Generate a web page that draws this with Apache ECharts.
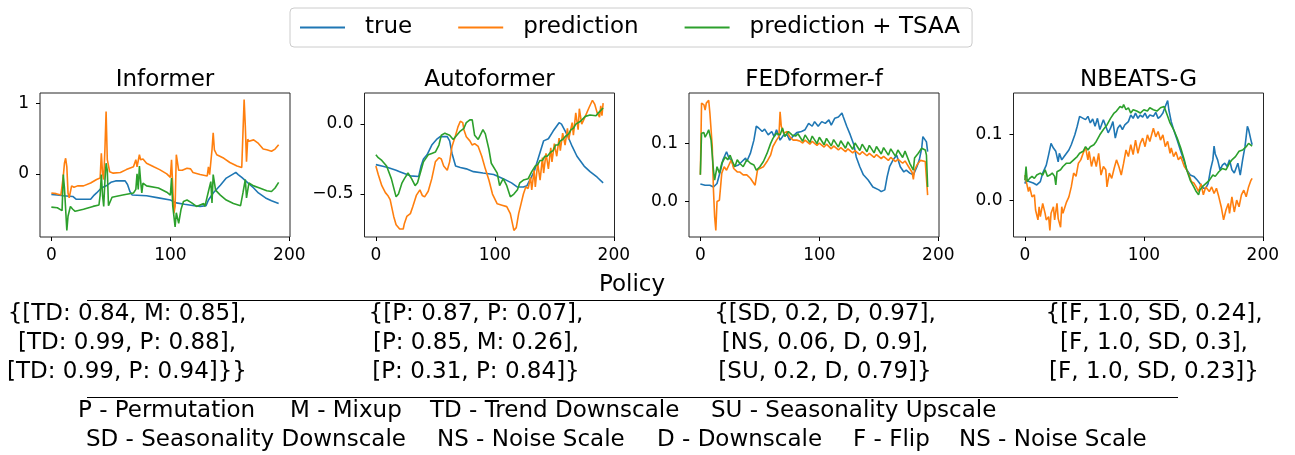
<!DOCTYPE html>
<html>
<head>
<meta charset="utf-8">
<script src="https://cdn.jsdelivr.net/npm/echarts@6/dist/echarts.min.js"></script>
<style>
  html, body { margin: 0; padding: 0; background: #fff; }
  #chart { width: 1295px; height: 455px; }
</style>
</head>
<body>
<div id="chart"></div>
<script>
// 数据：每个模型三条曲线 [x, y]
const seriesNames = ['true', 'prediction', 'prediction + TSAA'];
const modelNames = ['Informer', 'Autoformer', 'FEDformer-f', 'NBEATS-G'];
const xTicks = [0, 100, 200];
const yTicks = [[0, 1], [-0.5, 0.0], [0.0, 0.1], [0.0, 0.1]];
const yRanges = [[-0.8925, 1.1425], [-0.807, 0.222], [-0.0615, 0.1875], [-0.0559, 0.1624]];

const informerTrue = [[0,-0.29],[5,-0.3],[10,-0.31],[18,-0.32],[21,-0.36],[33,-0.36],[36,-0.3],[38,-0.27],[42,-0.2],[47,-0.16],[50,-0.12],[54,-0.1],[62,-0.1],[64,-0.15],[66,-0.25],[68,-0.3],[80,-0.31],[90,-0.34],[100,-0.37],[105,-0.41],[112,-0.43],[120,-0.45],[125,-0.46],[130,-0.45],[132,-0.37],[136,-0.27],[142,-0.16],[147,-0.06],[153,0],[155,0.02],[157,-0.01],[160,-0.05],[164,-0.11],[170,-0.2],[174,-0.27],[180,-0.34],[185,-0.38],[191,-0.42]];
const informerPred = [[0,-0.27],[4,-0.28],[8,-0.3],[9,-0.29],[10,-0.04],[11,0.15],[12,0.22],[13,0.1],[14,-0.27],[15,-0.34],[17,-0.17],[19,-0.19],[22,-0.17],[27,-0.17],[33,-0.13],[38,-0.08],[41,-0.06],[42,0.29],[43,0.01],[44,-0.08],[45,0.34],[46,0.88],[47,0.2],[49,0.03],[52,0.01],[58,0.02],[63,0.06],[69,0.1],[71,0.2],[72,0.1],[74,0.27],[75,0.2],[77,0.21],[80,0.15],[86,0.1],[91,0.06],[97,0],[100,-0.05],[101,0.2],[102,-0.18],[103,-0.56],[104,-0.46],[105,0.27],[107,0.05],[110,0.05],[114,0.08],[117,0.07],[119,0.02],[125,-0.01],[131,-0.03],[132,0.1],[133,-0.01],[135,0.34],[136,0.58],[137,0.34],[139,0.27],[145,0.22],[150,0.16],[156,0.11],[160,0.09],[161,0.57],[162,1.05],[163,0.67],[164,0.17],[165,0.49],[166,0.46],[170,0.48],[174,0.43],[178,0.35],[181,0.34],[185,0.32],[188,0.35],[191,0.41]];
const informerTsaa = [[0,-0.47],[5,-0.48],[9,-0.52],[10,-0.01],[11,-0.2],[13,-0.8],[14,-0.6],[16,-0.46],[18,-0.5],[20,-0.53],[27,-0.5],[35,-0.46],[40,-0.44],[41,-0.3],[42,-0.01],[43,-0.3],[44,-0.46],[45,-0.1],[46,0.15],[47,0.05],[48,-0.45],[51,-0.33],[60,-0.3],[69,-0.27],[71,-0.22],[72,0],[73,-0.22],[74,0.11],[75,-0.1],[76,-0.27],[77,-0.13],[80,-0.17],[90,-0.2],[97,-0.26],[100,-0.3],[101,-0.06],[102,-0.45],[103,-0.6],[104,-0.75],[105,-0.55],[107,-0.7],[109,-0.5],[111,-0.39],[114,-0.37],[118,-0.41],[122,-0.46],[128,-0.42],[129,-0.46],[132,-0.25],[134,-0.11],[135,-0.41],[136,-0.01],[138,-0.23],[142,-0.3],[147,-0.37],[153,-0.42],[159,-0.45],[161,-0.27],[163,-0.08],[164,-0.34],[166,-0.13],[170,-0.17],[175,-0.2],[181,-0.24],[185,-0.25],[188,-0.2],[191,-0.12]];

const autoTrue = [[0,-0.29],[5,-0.3],[10,-0.31],[17,-0.33],[20,-0.34],[29,-0.37],[36,-0.375],[38,-0.3],[40,-0.25],[43,-0.22],[47,-0.15],[51,-0.11],[54,-0.09],[60,-0.09],[62,-0.12],[64,-0.21],[67,-0.3],[71,-0.31],[76,-0.32],[82,-0.34],[90,-0.35],[99,-0.36],[107,-0.39],[114,-0.42],[119,-0.45],[124,-0.45],[127,-0.44],[133,-0.34],[137,-0.23],[141,-0.12],[145,-0.105],[149,-0.05],[154,0.01],[156,0],[161,-0.08],[165,-0.16],[169,-0.23],[175,-0.3],[180,-0.34],[186,-0.38],[191,-0.42]];
const autoPred = [[0,-0.3],[2,-0.36],[5,-0.44],[8,-0.49],[10,-0.51],[12,-0.54],[15,-0.66],[17,-0.72],[20,-0.75],[23,-0.75],[24,-0.71],[26,-0.66],[29,-0.64],[31,-0.59],[34,-0.51],[37,-0.47],[39,-0.51],[41,-0.52],[44,-0.48],[47,-0.39],[50,-0.27],[53,-0.24],[55,-0.25],[57,-0.3],[60,-0.33],[62,-0.27],[64,-0.16],[67,-0.08],[69,-0.02],[71,0.02],[73,0.01],[74,-0.04],[76,-0.09],[79,-0.12],[81,-0.15],[83,-0.14],[86,-0.16],[89,-0.23],[92,-0.32],[95,-0.4],[98,-0.5],[102,-0.57],[106,-0.58],[110,-0.59],[113,-0.64],[116,-0.76],[118,-0.74],[120,-0.64],[122,-0.57],[124,-0.5],[126,-0.45],[128,-0.46],[130,-0.38],[131,-0.47],[133,-0.33],[134,-0.45],[136,-0.28],[138,-0.4],[140,-0.24],[141,-0.35],[143,-0.21],[145,-0.32],[147,-0.17],[148,-0.27],[150,-0.14],[152,-0.23],[154,-0.1],[155,-0.19],[157,-0.065],[159,-0.15],[161,-0.03],[162,-0.11],[165,0.01],[166,-0.08],[168,0.08],[170,-0.04],[171,0.11],[173,0],[176,0.055],[179,0.115],[182,0.17],[184,0.14],[186,0.08],[188,0.05],[189,0.13],[190,0.06],[191,0.15]];
const autoTsaa = [[0,-0.22],[2,-0.24],[5,-0.26],[9,-0.3],[13,-0.39],[17,-0.52],[19,-0.5],[22,-0.42],[24,-0.39],[27,-0.35],[30,-0.39],[33,-0.44],[35,-0.42],[38,-0.33],[40,-0.27],[44,-0.22],[47,-0.21],[50,-0.2],[53,-0.15],[55,-0.08],[58,-0.065],[62,-0.08],[65,-0.11],[68,-0.08],[71,-0.05],[74,-0.03],[76,0.01],[79,0.03],[81,0.03],[83,-0.08],[86,-0.11],[90,-0.04],[92,-0.07],[95,-0.18],[97,-0.28],[102,-0.35],[104,-0.44],[107,-0.39],[110,-0.44],[113,-0.52],[116,-0.5],[119,-0.47],[121,-0.42],[124,-0.4],[128,-0.39],[131,-0.34],[134,-0.3],[136,-0.29],[138,-0.26],[140,-0.26],[142,-0.23],[144,-0.23],[147,-0.2],[149,-0.19],[151,-0.15],[153,-0.15],[155,-0.12],[157,-0.11],[159,-0.09],[162,-0.07],[164,-0.04],[166,-0.03],[168,0],[172,0.02],[176,0.055],[180,0.065],[185,0.06],[187,0.08],[191,0.115]];

const fedTrue = [[0,0.03],[4,0.028],[8,0.028],[11,0.025],[14,0.031],[17,0.054],[19,0.072],[22,0.086],[24,0.075],[26,0.072],[28,0.06],[32,0.063],[35,0.069],[38,0.075],[39,0.069],[42,0.083],[45,0.106],[47,0.13],[49,0.127],[52,0.121],[54,0.125],[57,0.115],[60,0.121],[62,0.112],[64,0.124],[67,0.106],[70,0.115],[73,0.115],[75,0.106],[78,0.113],[81,0.119],[85,0.121],[88,0.124],[91,0.135],[94,0.13],[96,0.138],[99,0.13],[102,0.138],[105,0.135],[108,0.141],[110,0.132],[113,0.144],[116,0.146],[119,0.153],[120,0.147],[123,0.13],[126,0.115],[129,0.098],[131,0.077],[134,0.06],[137,0.046],[141,0.037],[145,0.025],[150,0.02],[152,0.017],[155,0.02],[157,0.043],[159,0.06],[162,0.072],[165,0.08],[168,0.06],[171,0.051],[173,0.054],[176,0.049],[179,0.046],[182,0.06],[184,0.072],[186,0.092],[187,0.112],[190,0.103],[191,0.086]];
const fedPred = [[0,0.046],[1,0.17],[3,0.167],[4,0.158],[5,0.17],[7,0.175],[8,0.153],[10,0.095],[11,0.02],[12,-0.027],[13,-0.05],[14,0],[16,0.002],[18,0.049],[20,0.06],[22,0.054],[24,0.063],[26,0.072],[28,0.057],[31,0.051],[33,0.051],[36,0.046],[39,0.046],[42,0.04],[44,0.034],[46,0.028],[48,0.054],[50,0.057],[53,0.06],[56,0.069],[59,0.08],[61,0.095],[64,0.106],[66,0.112],[67,0.155],[68,0.13],[70,0.118],[73,0.121],[75,0.112],[78,0.106],[81,0.106],[84,0.104],[86,0.101],[88,0.106],[92,0.099],[94,0.104],[98,0.097],[100,0.101],[104,0.094],[106,0.099],[110,0.091],[112,0.096],[116,0.089],[118,0.093],[122,0.086],[124,0.091],[128,0.084],[130,0.088],[134,0.081],[136,0.086],[140,0.079],[142,0.083],[146,0.076],[148,0.081],[152,0.074],[154,0.078],[158,0.071],[160,0.076],[164,0.069],[166,0.073],[170,0.066],[172,0.07],[175,0.06],[178,0.05],[179,0.038],[180,0.054],[182,0.063],[185,0.071],[189,0.069],[191,0.011]];
const fedTsaa = [[0,0.046],[1,0.118],[3,0.119],[4,0.111],[6,0.119],[7,0.124],[9,0.106],[11,0.054],[12,0.037],[14,0.06],[16,0.049],[18,0.066],[21,0.077],[23,0.072],[25,0.08],[27,0.069],[29,0.06],[31,0.072],[33,0.066],[36,0.06],[39,0.072],[42,0.066],[45,0.063],[47,0.054],[50,0.06],[53,0.069],[56,0.083],[59,0.1],[61,0.109],[64,0.118],[67,0.115],[69,0.127],[71,0.112],[74,0.121],[77,0.115],[80,0.113],[82,0.117],[86,0.104],[88,0.115],[92,0.102],[94,0.113],[98,0.1],[100,0.111],[104,0.098],[106,0.109],[110,0.096],[112,0.107],[116,0.094],[118,0.105],[122,0.092],[124,0.103],[128,0.09],[130,0.101],[134,0.088],[136,0.099],[140,0.086],[142,0.097],[146,0.084],[148,0.095],[152,0.082],[154,0.093],[158,0.08],[160,0.091],[164,0.078],[166,0.089],[170,0.076],[172,0.087],[176,0.066],[179,0.054],[180,0.075],[183,0.083],[186,0.092],[189,0.089],[190,0.08],[191,0.025]];

const nbeatsTrue = [[0,0.025],[1,0.03],[4,0.028],[7,0.026],[10,0.023],[13,0.028],[15,0.041],[18,0.053],[20,0.069],[22,0.086],[24,0.079],[26,0.074],[28,0.058],[29,0.071],[31,0.061],[33,0.066],[35,0.071],[37,0.076],[39,0.084],[42,0.099],[44,0.112],[46,0.127],[49,0.124],[51,0.122],[53,0.127],[55,0.117],[57,0.123],[59,0.112],[61,0.124],[63,0.107],[66,0.122],[68,0.112],[70,0.102],[72,0.109],[74,0.119],[76,0.094],[78,0.109],[80,0.114],[82,0.107],[84,0.114],[87,0.119],[89,0.129],[91,0.124],[93,0.132],[95,0.124],[97,0.129],[99,0.126],[101,0.132],[103,0.124],[105,0.129],[108,0.127],[110,0.133],[112,0.124],[114,0.127],[116,0.132],[118,0.142],[120,0.151],[121,0.137],[123,0.119],[125,0.107],[128,0.091],[131,0.074],[134,0.058],[136,0.046],[139,0.038],[142,0.036],[145,0.03],[148,0.023],[150,0.018],[152,0.018],[154,0.025],[156,0.046],[158,0.061],[159,0.082],[160,0.07],[162,0.061],[164,0.046],[166,0.053],[168,0.056],[170,0.051],[172,0.061],[174,0.046],[176,0.041],[179,0.056],[181,0.038],[183,0.061],[185,0.081],[187,0.112],[188,0.107],[189,0.107],[190,0.091],[191,0.084]];
const nbeatsPred = [[0,0.038],[1,0.03],[3,0.013],[4,0.02],[6,0.005],[8,0.008],[9,-0.015],[11,-0.03],[12,-0.01],[13,-0.025],[15,-0.005],[17,-0.02],[18,-0.03],[20,-0.025],[21,-0.046],[22,-0.02],[24,-0.01],[25,-0.03],[27,-0.005],[28,-0.028],[30,-0.041],[31,-0.01],[32,-0.02],[35,-0.003],[37,0.005],[39,0.02],[41,0.041],[43,0.036],[45,0.056],[47,0.061],[49,0.071],[51,0.08],[53,0.061],[54,0.074],[56,0.051],[58,0.066],[60,0.051],[62,0.071],[64,0.038],[66,0.051],[68,0.046],[69,0.02],[71,0.041],[73,0.033],[75,0.048],[77,0.061],[79,0.051],[81,0.038],[83,0.056],[85,0.076],[87,0.066],[89,0.084],[91,0.069],[93,0.091],[95,0.071],[97,0.086],[99,0.094],[101,0.081],[103,0.099],[105,0.089],[108,0.109],[110,0.096],[112,0.104],[114,0.091],[116,0.099],[118,0.081],[120,0.089],[122,0.071],[123,0.079],[125,0.066],[127,0.073],[129,0.061],[131,0.066],[134,0.051],[136,0.046],[138,0.038],[140,0.028],[142,0.026],[144,0.02],[146,0.013],[148,0.025],[150,0.008],[152,0.02],[155,0.013],[157,0.02],[159,0.01],[161,0.018],[163,0.005],[165,-0.01],[167,-0.03],[169,-0.015],[171,-0.005],[172,-0.02],[174,0.005],[176,-0.018],[178,0],[180,-0.01],[182,0.008],[184,0.015],[186,0.005],[188,0.02],[190,0.03],[191,0.033]];
const nbeatsTsaa = [[0,0.03],[1,0.051],[2,0.028],[4,0.033],[6,0.036],[8,0.033],[10,0.038],[13,0.041],[15,0.038],[17,0.046],[19,0.036],[21,0.038],[23,0.041],[25,0.036],[26,0.023],[27,0.043],[30,0.046],[32,0.051],[35,0.056],[38,0.056],[41,0.061],[44,0.066],[46,0.071],[49,0.074],[51,0.081],[53,0.076],[55,0.081],[58,0.084],[60,0.089],[63,0.099],[66,0.107],[69,0.114],[72,0.124],[75,0.132],[77,0.135],[80,0.142],[82,0.14],[83,0.145],[85,0.137],[87,0.14],[89,0.132],[91,0.137],[94,0.135],[97,0.132],[100,0.137],[103,0.135],[105,0.14],[108,0.137],[111,0.135],[114,0.14],[117,0.142],[118,0.137],[120,0.127],[122,0.117],[125,0.107],[128,0.094],[131,0.079],[134,0.061],[136,0.046],[139,0.03],[142,0.02],[144,0.013],[146,0.008],[147,0.015],[149,0.02],[152,0.025],[155,0.03],[158,0.038],[160,0.036],[163,0.043],[166,0.048],[169,0.046],[172,0.056],[174,0.061],[177,0.066],[180,0.074],[183,0.076],[186,0.081],[188,0.086],[191,0.082]];

const policyTexts = [
  '{[TD: 0.84, M: 0.85],\n[TD: 0.99, P: 0.88],\n[TD: 0.99, P: 0.94]}}',
  '{[P: 0.87, P: 0.07],\n[P: 0.85, M: 0.26],\n[P: 0.31, P: 0.84]}',
  '{[SD, 0.2, D, 0.97],\n[NS, 0.06, D, 0.9],\n[SU, 0.2, D, 0.79]}',
  '{[F, 1.0, SD, 0.24],\n[F, 1.0, SD, 0.3],\n[F, 1.0, SD, 0.23]}'
];
const abbrevRows = [
  ['P - Permutation', 'M - Mixup', 'TD - Trend Downscale', 'SU - Seasonality Upscale'],
  ['SD - Seasonality Downscale', 'NS - Noise Scale', 'D - Downscale', 'F - Flip', 'NS - Noise Scale']
];

const panelData = [
  [informerTrue, informerPred, informerTsaa],
  [autoTrue, autoPred, autoTsaa],
  [fedTrue, fedPred, fedTsaa],
  [nbeatsTrue, nbeatsPred, nbeatsTsaa]
];

const colors = ['#1f77b4', '#ff7f0e', '#2ca02c'];
const FONT = '"DejaVu Sans", sans-serif';
const gridLefts = [40, 364.5, 689, 1013.5];
const gridTop = 93, gridW = 250, gridH = 144;
// 底部缩写说明每段的起点
const abbrevX = [[78, 290, 430, 711], [86, 437, 657, 853, 959]];

document.addEventListener('DOMContentLoaded', () => {
  const myChart = echarts.init(document.getElementById('chart'), null, { renderer: 'canvas' });

  const fmt = (i) => (v) => {
    const s = i === 0 ? String(Math.round(v)) : v.toFixed(1);
    return s.replace('-', '\u2212');
  };

  const grid = gridLefts.map(l => ({
    left: l, top: gridTop, width: gridW, height: gridH,
    show: true, borderColor: '#262626', borderWidth: 1, backgroundColor: 'transparent'
  }));

  const xAxis = gridLefts.map((_, i) => ({
    type: 'value', gridIndex: i, min: -9.55, max: 200.55, position: 'bottom',
    splitLine: { show: false },
    axisLine: { show: false, onZero: false },
    axisTick: { show: true, customValues: xTicks, length: 4, lineStyle: { color: '#000' } },
    axisLabel: { customValues: xTicks, fontSize: 17, color: '#000', fontFamily: FONT, margin: 10 }
  }));

  const yAxis = gridLefts.map((_, i) => ({
    type: 'value', gridIndex: i, min: yRanges[i][0], max: yRanges[i][1], position: 'left',
    splitLine: { show: false },
    axisLine: { show: false, onZero: false },
    axisTick: { show: true, customValues: yTicks[i], length: 4, lineStyle: { color: '#000' } },
    axisLabel: { customValues: yTicks[i], fontSize: 17, color: '#000', fontFamily: FONT, margin: 11, formatter: fmt(i) }
  }));

  const series = [];
  panelData.forEach((group, i) => {
    group.forEach((d, j) => {
      series.push({
        type: 'line', name: seriesNames[j], xAxisIndex: i, yAxisIndex: i,
        data: d, symbol: 'none', showSymbol: false, silent: true,
        lineStyle: { width: 1.6, color: colors[j] }, itemStyle: { color: colors[j] }
      });
    });
  });

  const textStyle = (extra) => Object.assign({ fill: '#000', font: '23px ' + FONT }, extra);
  const graphic = [];
  modelNames.forEach((name, i) => {
    graphic.push({ type: 'text', x: gridLefts[i] + gridW / 2, y: 80,
      style: textStyle({ text: name, align: 'center', verticalAlign: 'middle' }) });
  });
  graphic.push({ type: 'text', x: 632, y: 285.5, style: textStyle({ text: 'Policy', align: 'center', verticalAlign: 'middle' }) });
  graphic.push({ type: 'line', shape: { x1: 87, y1: 300.5, x2: 1178, y2: 300.5 }, style: { stroke: '#000', lineWidth: 1.2 } });
  graphic.push({ type: 'line', shape: { x1: 87, y1: 397.5, x2: 1178, y2: 397.5 }, style: { stroke: '#000', lineWidth: 1.2 } });
  const policyX = [127, 476, 825, 1154];
  policyTexts.forEach((t, i) => {
    graphic.push({ type: 'text', x: policyX[i], y: 300,
      style: textStyle({ text: t, align: 'center', verticalAlign: 'top', lineHeight: 28.7 }) });
  });
  abbrevRows.forEach((row, r) => {
    row.forEach((t, k) => {
      graphic.push({ type: 'text', x: abbrevX[r][k], y: 411 + r * 29,
        style: textStyle({ text: t, align: 'left', verticalAlign: 'middle' }) });
    });
  });

  const option = {
    animation: false,
    backgroundColor: '#fff',
    color: colors,
    grid, xAxis, yAxis, series, graphic,
    legend: {
      data: seriesNames, left: 290, top: 8,
      icon: 'rect', itemWidth: 45, itemHeight: 2, itemGap: 46,
      padding: [8, 12, 8, 10],
      borderColor: '#cccccc', borderWidth: 1, borderRadius: 4,
      textStyle: { fontSize: 23, color: '#000', fontFamily: FONT, padding: [0, 0, 0, 15] }
    }
  };

  myChart.setOption(option);
  window.addEventListener('resize', () => myChart.resize());
});
</script>
</body>
</html>
